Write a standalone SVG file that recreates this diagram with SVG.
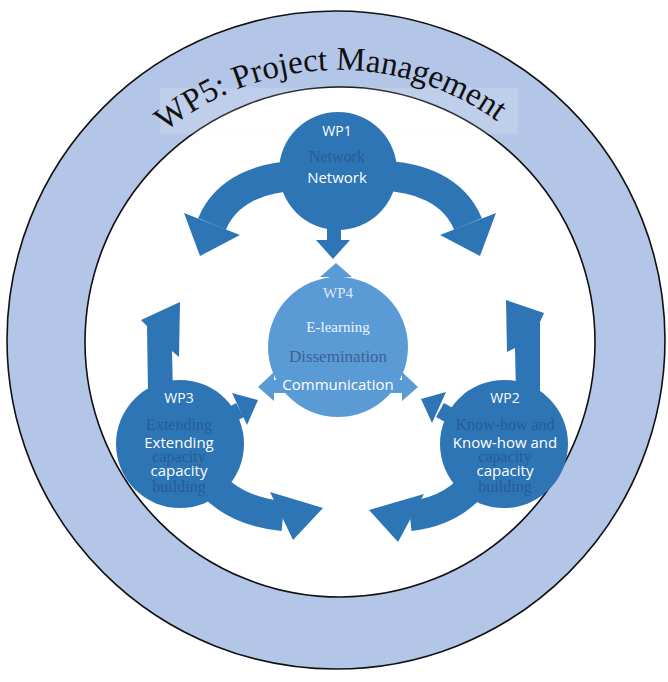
<svg xmlns="http://www.w3.org/2000/svg" width="668" height="682" viewBox="0 0 668 682">
<defs>
<style>
.ring{fill:#b4c6e7;stroke:#111;stroke-width:1.6}
.inner{fill:#ffffff;stroke:#111;stroke-width:1.6}
.dark{fill:#2e75b6}
.light{fill:#5b9bd5}
.shaft{fill:none;stroke:#2e75b6;stroke-width:30}
.sshaft{fill:none;stroke:#2e75b6;stroke-width:16}
.lbl{font-family:"Open Sans","Noto Sans",sans-serif;fill:#ffffff;text-anchor:middle}
.wp{font-size:14px}
.main{font-size:15px}
.ghost{font-family:"Liberation Serif","Times New Roman",serif;font-size:16px;fill:#1f3f6a;opacity:0.45;text-anchor:middle}
.title{font-family:"Liberation Serif","Times New Roman",serif;font-size:33px;fill:#111}
</style>
<path id="titleArc" d="M 66 342 A 272 272 0 0 1 610 342"/>
</defs>
<rect width="668" height="682" fill="#ffffff"/>
<g id="wp5">
<circle class="ring" cx="336" cy="340" r="329"/>
<circle class="inner" cx="340" cy="342" r="255"/>
<rect x="160" y="88" width="358" height="46" fill="#ffffff" opacity="0.15" stroke="#e8edf5" stroke-width="1"/>
<text class="title"><textPath href="#titleArc" startOffset="49%" text-anchor="middle">WP5: Project Management</textPath></text>
</g>
<g id="connectors">
<g id="wp1-left">
<path class="shaft" d="M 300 176 C 262 176 226 190 212 224"/>
<polygon class="dark" points="184,213 240,235 200,256"/>
</g>
<g id="wp1-right">
<path class="shaft" d="M 380 176 C 418 176 454 190 468 224"/>
<polygon class="dark" points="496,213 440,235 480,256"/>
</g>
<path id="wp1-down" class="dark" d="M 327 222 L 341 222 L 341 240 L 350 240 L 333 259 L 316 240 L 327 240 Z"/>
<path id="wp4-up" class="light" d="M 329 292 L 329 277 L 320 277 L 336 263 L 352 277 L 344 277 L 344 292 Z"/>
<path id="wp4-left" class="light" d="M 290 380 L 274 380 L 274 372 L 258 387 L 274 401 L 274 393 L 290 393 Z"/>
<path id="wp4-right" class="light" d="M 386 380 L 402 380 L 402 372 L 418 387 L 402 401 L 402 393 L 386 393 Z"/>
<path id="wp3-up" class="dark" d="M 148 394 L 147 326 L 141 320 L 180 302 L 179 357 L 172 351 L 173 394 Z"/>
<path id="wp2-up" class="dark" d="M 540 394 L 540 322 L 544 313 L 506 300 L 507 352 L 515 348 L 516 394 Z"/>
<g id="wp3-to-wp4">
<path class="sshaft" d="M 222 420 L 240 410"/>
<polygon class="dark" points="232,393 258,400 247,425"/>
</g>
<g id="wp2-to-wp4">
<path class="sshaft" d="M 458 420 L 440 410"/>
<polygon class="dark" points="446,392 421,399 432,423"/>
</g>
<g id="wp3-right">
<path class="shaft" d="M 200 470 C 220 500 250 513 283 516"/>
<polygon class="dark" points="270,492 323,508 293,540"/>
</g>
<g id="wp2-left">
<path class="shaft" d="M 485 470 C 465 500 440 513 410 516"/>
<polygon class="dark" points="424,494 369,510 398,542"/>
</g>
</g>
<g id="wp1">
<circle class="dark" cx="338" cy="171" r="59"/>
<text class="lbl wp" x="337" y="136">WP1</text>
<text class="ghost" x="337" y="162">Network</text>
<text class="lbl main" x="337" y="183">Network</text>
</g>
<g id="wp4">
<circle class="light" cx="338" cy="347" r="70"/>
<text x="338" y="298" font-family="Liberation Serif, serif" font-size="15" fill="#dfe9f6" text-anchor="middle">WP4</text>
<text x="338" y="332" font-family="Liberation Serif, serif" font-size="15" fill="#eef4fb" text-anchor="middle">E-learning</text>
<text x="338" y="362" font-family="Liberation Serif, serif" font-size="17" fill="#2f4f80" opacity="0.75" text-anchor="middle">Dissemination</text>
<text class="lbl main" x="338" y="390">Communication</text>
</g>
<g id="wp3">
<circle class="dark" cx="180" cy="444" r="64"/>
<text class="lbl wp" x="179" y="403">WP3</text>
<text class="ghost" x="179" y="430">Extending</text>
<text class="lbl main" x="179" y="448">Extending</text>
<text class="ghost" x="179" y="462">capacity</text>
<text class="lbl main" x="179" y="476">capacity</text>
<text class="ghost" x="179" y="492">building</text>
</g>
<g id="wp2">
<circle class="dark" cx="504" cy="444" r="64"/>
<text class="lbl wp" x="505" y="403">WP2</text>
<text class="ghost" x="505" y="430">Know-how and</text>
<text class="lbl main" x="505" y="448">Know-how and</text>
<text class="ghost" x="505" y="462">capacity</text>
<text class="lbl main" x="505" y="476">capacity</text>
<text class="ghost" x="505" y="492">building</text>
</g>
</svg>
